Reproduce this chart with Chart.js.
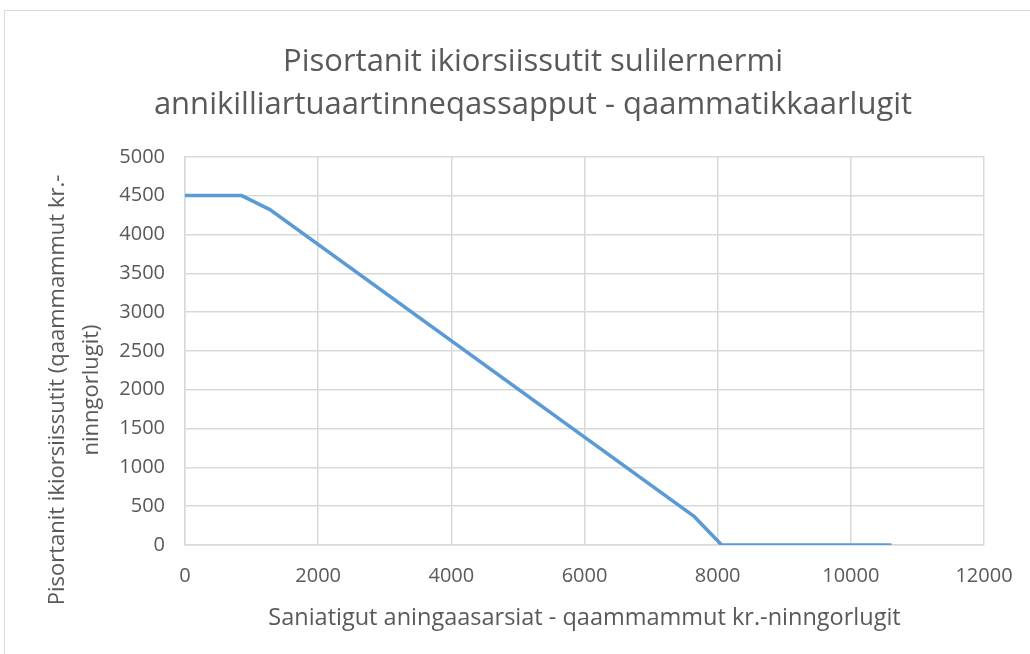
<!DOCTYPE html>
<html>
<head>
<meta charset="utf-8">
<script src="https://cdn.jsdelivr.net/npm/chart.js@4/dist/chart.umd.min.js"></script>
<style>
  body { margin: 0; background: #fff; }
  #wrap { position: relative; width: 1030px; height: 654px; overflow: hidden; }
  #frame { position: absolute; left: 4px; top: 10px; width: 1040px; height: 660px; border: 1px solid #d9d9d9; }
  canvas { position: absolute; left: 0; top: 0; }
</style>
</head>
<body>
<div id="wrap">
  <div id="frame"></div>
  <canvas id="chart" width="1030" height="654"></canvas>
</div>
<script>
// Data
const income = [0, 850, 1275, 7650, 8060, 10610];
const benefit = [4500, 4500, 4320, 365, 0, 0];
const chartTitle = ["Pisortanit ikiorsiissutit sulilernermi", "annikilliartuaartinneqassapput - qaammatikkaarlugit"];
const xTitle = "Saniatigut aningaasarsiat - qaammammut kr.-ninngorlugit";
const yTitle = ["Pisortanit ikiorsiissutit (qaammammut kr.-", "ninngorlugit)"];

const textColor = '#595959';
const gridColor = '#d9d9d9';
const fontFamily = "'Open Sans', Lato, sans-serif";

const points = income.map((x, i) => ({ x: x, y: benefit[i] }));

// y axis title drawn in two lines, centred a bit below the plot middle as in the original
const yTitlePlugin = {
    id: 'yTitle',
    afterDraw(chart) {
        const ctx = chart.ctx;
        ctx.save();
        ctx.fillStyle = textColor;
        ctx.font = "22px " + fontFamily;
        ctx.textAlign = 'center';
        ctx.textBaseline = 'middle';
        const xs = [58, 92];
        yTitle.forEach((line, i) => {
            ctx.save();
            ctx.translate(xs[i], 390);
            ctx.rotate(-Math.PI / 2);
            ctx.fillText(line, 0, 0);
            ctx.restore();
        });
        ctx.restore();
    }
};

new Chart(document.getElementById('chart').getContext('2d'), {
    type: 'scatter',
    data: {
        datasets: [{
            data: points,
            showLine: true,
            borderColor: '#5b9bd5',
            backgroundColor: '#5b9bd5',
            borderWidth: 3.5,
            pointRadius: 0,
            tension: 0
        }]
    },
    options: {
        responsive: false,
        animation: false,
        layout: { padding: { left: 36, right: 0, top: 40, bottom: 0 } },
        plugins: {
            legend: { display: false },
            tooltip: { enabled: false },
            title: {
                display: true,
                text: chartTitle,
                color: textColor,
                font: { family: fontFamily, size: 31, weight: 'normal', lineHeight: 1.4 },
                padding: { top: 0, bottom: 30 }
            }
        },
        scales: {
            x: {
                type: 'linear',
                min: 0,
                max: 12000,
                ticks: { stepSize: 2000, color: textColor, font: { family: fontFamily, size: 20 }, padding: 19,
                         callback: v => String(v) },
                grid: { color: gridColor, lineWidth: 1.5, drawTicks: false },
                border: { color: gridColor, width: 1.5 },
                title: { display: true, text: xTitle, color: textColor, font: { family: fontFamily, size: 23.5 }, padding: { top: 4, bottom: 22 } },
                afterFit: function (scale) { scale.height = 109; scale.paddingRight = 46; }
            },
            y: {
                min: 0,
                max: 5000,
                ticks: { stepSize: 500, color: textColor, font: { family: fontFamily, size: 20 }, padding: 20,
                         callback: v => String(v) },
                grid: { color: gridColor, lineWidth: 1.5, drawTicks: false },
                border: { color: gridColor, width: 1.5 },
                afterFit: function (scale) { scale.width = 149; }
            }
        }
    },
    plugins: [yTitlePlugin]
});
</script>
</body>
</html>
